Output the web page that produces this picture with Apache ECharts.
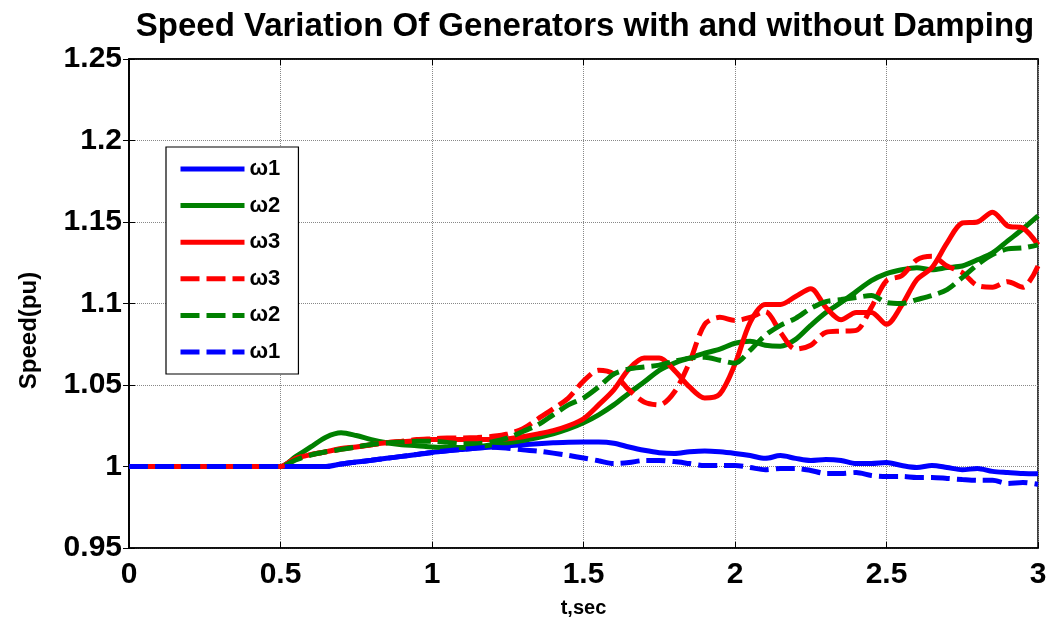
<!DOCTYPE html>
<html>
<head>
<meta charset="utf-8">
<script src="https://cdn.jsdelivr.net/npm/echarts@6/dist/echarts.min.js"></script>
<style>
html,body{margin:0;padding:0;background:#fff;}
#chart{width:1054px;height:623px;}
</style>
</head>
<body>
<div id="chart"></div>
<script>
var titleText = 'Speed Variation Of Generators with and without Damping';
var xName = 't,sec';
var yName = 'Speed(pu)';
var seriesNames = ['ω1', 'ω2', 'ω3', 'ω3 ', 'ω2 ', 'ω1 '];

var t = [0,0.05,0.1,0.15,0.2,0.25,0.3,0.35,0.4,0.45,0.5,0.55,0.6,0.65,0.7,0.75,0.8,0.85,0.9,0.95,
1,1.05,1.1,1.15,1.2,1.25,1.3,1.35,1.4,1.45,1.5,1.55,1.6,1.65,1.7,1.75,1.8,1.85,1.9,1.95,
2,2.05,2.1,2.15,2.2,2.25,2.3,2.35,2.4,2.45,2.5,2.55,2.6,2.65,2.7,2.75,2.8,2.85,2.9,2.95,3];

var w1 = [1,1,1,1,1,1,1,1,1,1,1,1,1,1,1.0015,1.0027,1.0038,1.005,1.0062,1.0074,
1.0086,1.0096,1.0105,1.0113,1.012,1.0127,1.0134,1.014,1.0145,1.0149,1.015,1.015,1.0143,1.012,1.010,1.0085,1.008,1.009,1.0095,1.009,
1.008,1.0067,1.005,1.0067,1.005,1.0037,1.0043,1.0037,1.0018,1.0018,1.0024,1.0006,0.9994,1.0006,0.9994,0.998,0.9988,0.997,0.9963,0.9957,0.9955];

var w2 = [1,1,1,1,1,1,1,1,1,1,1,1.006,1.012,1.018,1.0207,1.019,1.0165,1.0146,1.0134,1.0128,
1.012,1.0116,1.0116,1.012,1.0134,1.0146,1.0159,1.0177,1.020,1.023,1.0268,1.0317,1.0378,1.045,1.0518,1.059,1.0634,1.0665,1.0695,1.072,
1.0756,1.0768,1.0744,1.0738,1.078,1.0866,1.0945,1.1006,1.1073,1.114,1.1183,1.1207,1.122,1.1207,1.122,1.123,1.1268,1.131,1.1384,1.1457,1.1537];

var w3 = [1,1,1,1,1,1,1,1,1,1,1,1.0049,1.0073,1.009,1.011,1.012,1.0134,1.0146,1.0152,1.0159,
1.0165,1.0165,1.0165,1.0165,1.0165,1.017,1.0183,1.020,1.022,1.025,1.0293,1.0378,1.047,1.0598,1.0665,1.0665,1.059,1.0488,1.042,1.0445,
1.0628,1.0884,1.0994,1.0994,1.1043,1.1091,1.0976,1.090,1.0945,1.0945,1.0872,1.0988,1.1146,1.122,1.1372,1.1494,1.15,1.156,1.1476,1.1463,1.136];

var w3d = [1,1,1,1,1,1,1,1,1,1,1,1.0049,1.0073,1.009,1.0105,1.012,1.0134,1.0146,1.0155,1.0165,
1.017,1.0175,1.0175,1.0178,1.0185,1.020,1.0232,1.0293,1.0354,1.042,1.0524,1.059,1.0567,1.047,1.0396,1.0378,1.0457,1.064,1.0872,1.0915,
1.0896,1.0915,1.095,1.0823,1.072,1.0744,1.0823,1.083,1.0835,1.0976,1.114,1.117,1.1268,1.129,1.123,1.119,1.111,1.11,1.1134,1.11,1.123];

var w2d = [1,1,1,1,1,1,1,1,1,1,1,1.004,1.007,1.009,1.0105,1.012,1.0135,1.0145,1.015,1.0155,
1.0155,1.0148,1.014,1.014,1.0152,1.0175,1.0215,1.0256,1.0317,1.0378,1.042,1.0488,1.0567,1.0598,1.061,1.0622,1.0646,1.0665,1.067,1.0652,
1.0634,1.0713,1.0805,1.0866,1.0909,1.097,1.1012,1.1024,1.1037,1.1049,1.1006,1.100,1.1024,1.1049,1.1085,1.1159,1.1238,1.13,1.1335,1.1341,1.136];

var w1d = [1,1,1,1,1,1,1,1,1,1,1,1,1,1,1.0015,1.0027,1.0038,1.005,1.0062,1.0074,
1.0086,1.0096,1.0105,1.0113,1.0118,1.0112,1.0102,1.0094,1.0082,1.0068,1.0052,1.0035,1.0018,1.0024,1.0037,1.0037,1.003,1.0018,1.0006,1.0006,
1.0006,0.9994,0.998,0.9988,0.9988,0.9976,0.9957,0.9957,0.9963,0.9945,0.9939,0.9939,0.9933,0.9933,0.9927,0.992,0.9915,0.9915,0.9896,0.9902,0.989];

var seriesData = [w1, w2, w3, w3d, w2d, w1d];
var seriesColors = ['#0000FF', '#008000', '#FF0000', '#FF0000', '#008000', '#0000FF'];
var seriesDashed = [false, false, false, true, true, true];

function pairs(arr) {
  return arr.map(function (v, i) { return [t[i], v]; });
}

var FONT = '"Liberation Sans", Arial, sans-serif';
var chart = echarts.init(document.getElementById('chart'), null, { renderer: 'canvas' });

var series = seriesData.map(function (d, k) {
  return {
    name: seriesNames[k],
    type: 'line',
    data: pairs(d),
    symbol: 'none',
    smooth: 0.3,
    animation: false,
    lineStyle: {
      color: seriesColors[k],
      width: 5,
      type: seriesDashed[k] ? [19, 7] : 'solid'
    },
    itemStyle: { color: seriesColors[k] }
  };
});

var axisLabelStyle = { color: '#000', fontFamily: FONT, fontWeight: 'bold', fontSize: 30 };

chart.setOption({
  animation: false,
  backgroundColor: '#fff',
  title: {
    text: titleText,
    left: 580,
    textAlign: 'center',
    top: 5,
    textStyle: { color: '#000', fontFamily: FONT, fontWeight: 'bold', fontSize: 33 }
  },
  grid: {
    left: 129, right: 16, top: 59, bottom: 71,
    show: true, borderColor: '#000', borderWidth: 1.5, backgroundColor: '#fff'
  },
  legend: {
    orient: 'vertical',
    left: 166, top: 147,
    data: seriesNames,
    itemWidth: 64, itemHeight: 14, itemGap: 12.6, itemTextGap: 10,
    padding: [10, 12, 10, 12],
    borderColor: '#000', borderWidth: 1.2, backgroundColor: '#fff',
    itemStyle: { opacity: 0 },
    lineStyle: { width: 5 },
    textStyle: { color: '#000', fontFamily: FONT, fontWeight: 'bold', fontSize: 22, lineHeight: 24 }
  },
  xAxis: [{
    type: 'value', min: 0, max: 3, interval: 0.5,
    name: xName, nameLocation: 'middle', nameGap: 50,
    nameTextStyle: { color: '#000', fontFamily: FONT, fontWeight: 'bold', fontSize: 20 },
    axisLine: { show: true, onZero: false, lineStyle: { color: '#000', width: 1.5 } },
    axisTick: { show: true, inside: true, length: 6, lineStyle: { color: '#000' } },
    axisLabel: Object.assign({ margin: 12 }, axisLabelStyle),
    splitLine: { show: true, lineStyle: { color: '#888', type: 'dotted', width: 1 } }
  }, {
    type: 'value', min: 0, max: 3, interval: 0.5, position: 'top',
    axisLine: { show: true, lineStyle: { color: '#000', width: 1.5 } },
    axisTick: { show: true, inside: true, length: 6, lineStyle: { color: '#000' } },
    axisLabel: { show: false }, splitLine: { show: false }
  }],
  yAxis: [{
    type: 'value', min: 0.95, max: 1.25, interval: 0.05,
    name: yName, nameLocation: 'middle', nameGap: 88,
    nameTextStyle: { color: '#000', fontFamily: FONT, fontWeight: 'bold', fontSize: 24, padding: [0, 54, 0, 0] },
    axisLine: { show: true, onZero: false, lineStyle: { color: '#000', width: 1.5 } },
    axisTick: { show: true, inside: true, length: 6, lineStyle: { color: '#000' } },
    axisLabel: Object.assign({ margin: 7 }, axisLabelStyle),
    splitLine: { show: true, lineStyle: { color: '#888', type: 'dotted', width: 1 } }
  }, {
    type: 'value', min: 0.95, max: 1.25, interval: 0.05, position: 'right',
    axisLine: { show: true, lineStyle: { color: '#000', width: 1.5 } },
    axisTick: { show: true, inside: true, length: 6, lineStyle: { color: '#000' } },
    axisLabel: { show: false }, splitLine: { show: false }
  }],
  series: series
});
</script>
</body>
</html>
